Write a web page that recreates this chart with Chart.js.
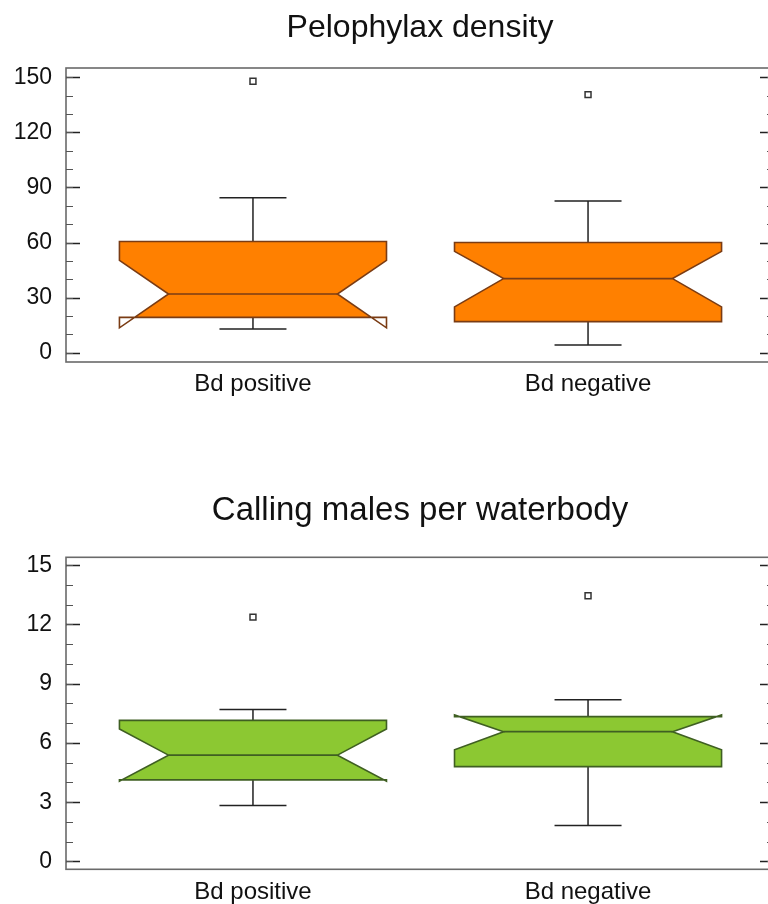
<!DOCTYPE html>
<html><head><meta charset="utf-8">
<script src="https://cdn.jsdelivr.net/npm/chart.js@4.4.0/dist/chart.umd.min.js"></script>
<style>
html,body{margin:0;padding:0;background:#fff;overflow:hidden;width:768px;height:904px;}
.wrap{position:absolute;left:0;width:780px;}
#w1{top:0;height:410px;}
#w2{top:470px;height:434px;}
</style></head><body>
<div class="wrap" id="w1"><canvas id="c1" width="780" height="410"></canvas></div>
<div class="wrap" id="w2"><canvas id="c2" width="780" height="434"></canvas></div>
<script>
const categories = ['Bd positive', 'Bd negative'];

// Panel 1: Pelophylax density
const densityQ1 = [19.3, 17.0];
const densityMedian = [32.0, 40.4];
const densityQ3 = [60.6, 60.0];
const densityNotchLow = [13.6, 25.0];
const densityNotchHigh = [50.3, 55.2];
const densityWhiskerLow = [13.0, 4.3];
const densityWhiskerHigh = [84.4, 82.6];
const densityOutliers = [147.8, 140.5];
const densityTicks = [0, 30, 60, 90, 120, 150];

// Panel 2: Calling males per waterbody
const callingQ1 = [4.13, 4.80];
const callingMedian = [5.38, 6.57];
const callingQ3 = [7.14, 7.33];
const callingNotchLow = [4.06, 5.65];
const callingNotchHigh = [6.71, 7.42];
const callingWhiskerLow = [2.83, 1.82];
const callingWhiskerHigh = [7.69, 8.18];
const callingOutliers = [12.37, 13.45];
const callingTicks = [0, 3, 6, 9, 12, 15];

const FONT = "'Liberation Sans', Arial, sans-serif";

const notchBox = {
  id: 'notchBox',
  beforeDatasetsDraw(chart, args, o) {
    const {ctx, chartArea: a, scales: {x, y}} = chart;
    ctx.save();
    // frame
    ctx.strokeStyle = '#6a6a6a';
    ctx.lineWidth = 1.6;
    ctx.strokeRect(a.left, a.top, a.width, a.height);
    // inward tick marks
    ctx.strokeStyle = '#222';
    ctx.lineWidth = 1.4;
    ctx.beginPath();
    y.ticks.forEach(t => {
      const py = Math.round(y.getPixelForValue(t.value)) + 0.5;
      ctx.moveTo(a.left, py); ctx.lineTo(a.left + 14, py);
      ctx.moveTo(a.right, py); ctx.lineTo(a.right - 14, py);
    });
    ctx.stroke();
    ctx.strokeStyle = '#555';
    ctx.lineWidth = 1.2;
    ctx.beginPath();
    for (let v = o.minorMin; v <= o.minorMax + 1e-9; v += o.minorStep) {
      const py = Math.round(y.getPixelForValue(v)) + 0.5;
      ctx.moveTo(a.left, py); ctx.lineTo(a.left + 7, py);
      ctx.moveTo(a.right, py); ctx.lineTo(a.right - 7, py);
    }
    ctx.stroke();

    o.q1.forEach((_, i) => {
      const L = x.getPixelForValue(i - o.halfWidth), R = x.getPixelForValue(i + o.halfWidth);
      const Li = x.getPixelForValue(i - o.notchHalf), Ri = x.getPixelForValue(i + o.notchHalf);
      const cx = x.getPixelForValue(i);
      const capL = x.getPixelForValue(i - o.capHalf), capR = x.getPixelForValue(i + o.capHalf);
      const q1 = y.getPixelForValue(o.q1[i]), q3 = y.getPixelForValue(o.q3[i]);
      const md = y.getPixelForValue(o.median[i]);
      const nl = y.getPixelForValue(o.notchLow[i]), nh = y.getPixelForValue(o.notchHigh[i]);
      const wl = y.getPixelForValue(o.whiskerLow[i]), wh = y.getPixelForValue(o.whiskerHigh[i]);

      // whiskers
      ctx.strokeStyle = '#222';
      ctx.lineWidth = 1.5;
      ctx.beginPath();
      ctx.moveTo(cx, q3); ctx.lineTo(cx, wh);
      ctx.moveTo(capL, wh); ctx.lineTo(capR, wh);
      ctx.moveTo(cx, q1); ctx.lineTo(cx, wl);
      ctx.moveTo(capL, wl); ctx.lineTo(capR, wl);
      ctx.stroke();

      const path = () => {
        ctx.beginPath();
        ctx.moveTo(L, q3);
        ctx.lineTo(L, nh);
        ctx.lineTo(Li, md);
        ctx.lineTo(L, nl);
        ctx.lineTo(L, q1);
        ctx.lineTo(R, q1);
        ctx.lineTo(R, nl);
        ctx.lineTo(Ri, md);
        ctx.lineTo(R, nh);
        ctx.lineTo(R, q3);
        ctx.closePath();
      };
      ctx.save();
      ctx.beginPath();
      ctx.rect(L, q3, R - L, q1 - q3);
      ctx.clip();
      path();
      ctx.fillStyle = o.fill;
      ctx.fill();
      ctx.restore();
      path();
      ctx.strokeStyle = o.stroke;
      ctx.lineWidth = 1.6;
      ctx.lineJoin = 'miter';
      ctx.stroke();
      ctx.beginPath();
      ctx.moveTo(Li, md); ctx.lineTo(Ri, md);
      ctx.stroke();
    });
    ctx.restore();
  }
};

function makeChart(id, cfg) {
  return new Chart(document.getElementById(id), {
    type: 'scatter',
    data: {
      datasets: [{
        data: categories.map((c, i) => ({x: i, y: cfg.outliers[i]})),
        pointStyle: 'rect',
        pointRadius: 4.2,
        pointHoverRadius: 4.2,
        backgroundColor: '#ffffff',
        borderColor: '#333333',
        borderWidth: 1.5
      }]
    },
    options: {
      responsive: false,
      animation: false,
      devicePixelRatio: 1,
      layout: {padding: {left: 0, right: 6, top: 0, bottom: 0}},
      plugins: {
        legend: {display: false},
        tooltip: {enabled: false},
        title: {
          display: true, text: cfg.title, fullSize: false, color: '#111',
          font: {family: FONT, size: cfg.titleSize, weight: 'normal'},
          padding: cfg.titlePad
        },
        notchBox: {
          q1: cfg.q1, median: cfg.median, q3: cfg.q3,
          notchLow: cfg.notchLow, notchHigh: cfg.notchHigh,
          whiskerLow: cfg.whiskerLow, whiskerHigh: cfg.whiskerHigh,
          halfWidth: 0.3985, notchHalf: 0.252, capHalf: 0.1,
          fill: cfg.fill, stroke: cfg.stroke,
          minorMin: cfg.minorMin, minorMax: cfg.minorMax, minorStep: cfg.minorStep
        }
      },
      scales: {
        x: {
          type: 'linear', position: 'bottom', min: -0.558, max: 1.555,
          grid: {display: false}, border: {display: false},
          afterBuildTicks: s => { s.ticks = categories.map((c, i) => ({value: i})); },
          afterFit: s => { s.height = cfg.xHeight; },
          ticks: {
            autoSkip: false, maxRotation: 0, padding: cfg.xPad, color: '#111',
            font: {family: FONT, size: 24},
            callback: v => categories[v]
          }
        },
        y: {
          type: 'linear', min: cfg.yMin, max: cfg.yMax,
          grid: {display: false, drawTicks: false}, border: {display: false},
          afterBuildTicks: s => { s.ticks = cfg.ticks.map(v => ({value: v})); },
          afterFit: s => { s.width = 66; },
          ticks: {padding: 14, color: '#111', font: {family: FONT, size: 23}}
        }
      }
    },
    plugins: [notchBox]
  });
}

makeChart('c1', {
  title: 'Pelophylax density', titleSize: 32, titlePad: {top: 9, bottom: 20.6},
  q1: densityQ1, median: densityMedian, q3: densityQ3,
  notchLow: densityNotchLow, notchHigh: densityNotchHigh,
  whiskerLow: densityWhiskerLow, whiskerHigh: densityWhiskerHigh,
  outliers: densityOutliers, ticks: densityTicks,
  yMin: -5, yMax: 155, minorMin: 0, minorMax: 150, minorStep: 10,
  fill: '#FF8000', stroke: '#7a3c14', xHeight: 48, xPad: 0
});

makeChart('c2', {
  title: 'Calling males per waterbody', titleSize: 33, titlePad: {top: 21.2, bottom: 26.5},
  q1: callingQ1, median: callingMedian, q3: callingQ3,
  notchLow: callingNotchLow, notchHigh: callingNotchHigh,
  whiskerLow: callingWhiskerLow, whiskerHigh: callingWhiskerHigh,
  outliers: callingOutliers, ticks: callingTicks,
  yMin: -0.4, yMax: 15.4, minorMin: 0, minorMax: 15, minorStep: 1,
  fill: '#8CC832', stroke: '#3f5f22', xHeight: 34.7, xPad: 1
});
</script>
</body></html>
